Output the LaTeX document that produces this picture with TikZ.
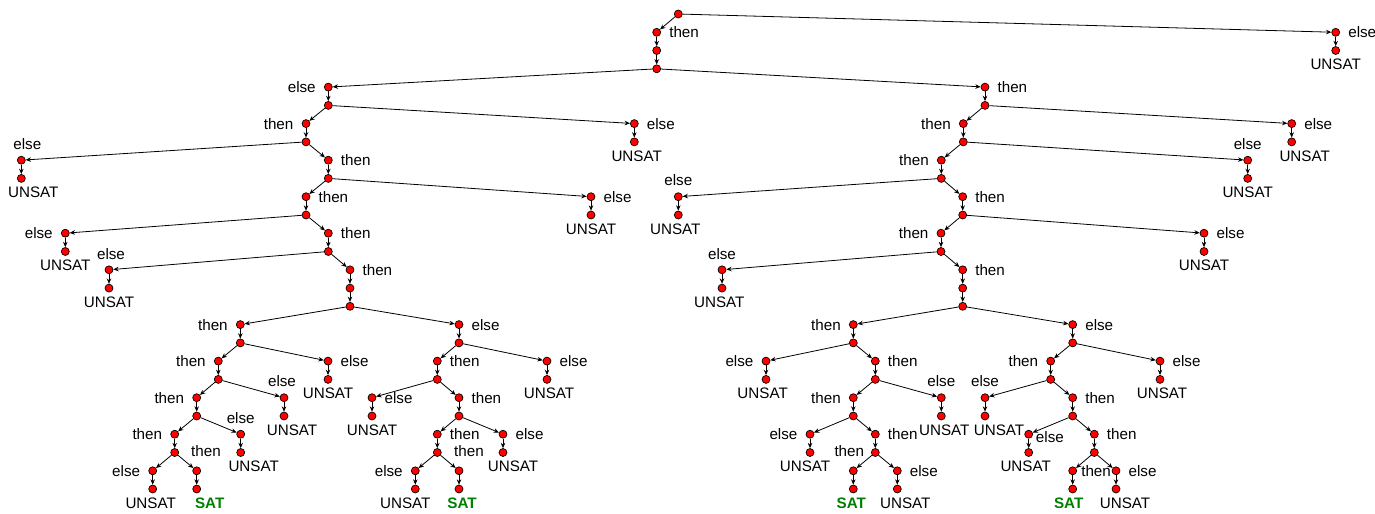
\documentclass[tikz,border=0pt]{standalone}
\usepackage{fontspec}
\setmainfont{Liberation Sans}
\usetikzlibrary{arrows.meta}
\definecolor{satgreen}{RGB}{0,128,0}

\begin{document}
\begin{tikzpicture}[x=0.75pt,y=-0.75pt,
  dot/.style={circle, draw=black, fill=red, line width=0.5pt, inner sep=0pt, minimum size=6pt},
  arr/.style={-{Stealth[length=4pt,width=3.4pt]}, line width=0.6pt},
  every label/.style={font=\fontsize{11.4}{13}\selectfont, inner sep=1pt},
  label distance=5pt,
  lthen/.style={label={left:then}},
  rthen/.style={label={right:then}},
  lelse/.style={label={left:else}},
  relse/.style={label={right:else}},
  aelse/.style={label={[label distance=3.5pt, xshift=#1]above:else}}, aelse/.default=0pt,
  athen/.style={label={[label distance=6pt, xshift=#1]above:then}}, athen/.default=0pt,
  unsat/.style={label={[label distance=2pt, xshift=#1]below:UNSAT}}, unsat/.default=0pt,
  sat/.style={label={[label distance=2pt, xshift=#1, text=satgreen, font=\fontsize{11.4}{13}\selectfont\bfseries]below:SAT}}, sat/.default=0pt]
\useasboundingbox (0,0) rectangle (1375,514);

%Shape: Root
\node[dot] (rt) at (678.3,14) {};
\node[dot, relse] (rt1e) at (1335.7,32.3) {};
\node[dot, unsat] (rt2e) at (1335.7,50.5) {};
\node[dot, rthen] (rt1t) at (656.7,32.3) {};
\node[dot] (rt2) at (656.7,50.5) {};
\node[dot] (rt3) at (656.7,68.8) {};

%Shape: Left branch
\node[dot, lelse] (l4) at (328.3,87.1) {};
\node[dot] (l5) at (328.3,105.4) {};
\node[dot, lthen] (l6t) at (306,123.6) {};
\node[dot, relse] (l6e) at (634.3,123.6) {};
\node[dot, unsat=1.8pt] (l7e) at (634.3,141.9) {};
\node[dot] (l7) at (306,141.9) {};
\node[dot, aelse=4.5pt] (l8e) at (21.3,160.2) {};
\node[dot, unsat=9pt] (l9e) at (21.3,178.4) {};
\node[dot, rthen] (l8t) at (328.3,160.2) {};
\node[dot] (l9) at (328.3,178.4) {};
\node[dot, rthen] (l10t) at (306,196.7) {};
\node[dot, relse] (l10e) at (591,196.7) {};
\node[dot, unsat] (l11e) at (591,215) {};
\node[dot] (l11) at (306,215) {};
\node[dot, lelse] (l12e) at (65.3,233.2) {};
\node[dot, unsat] (l13e) at (65.3,251.5) {};
\node[dot, rthen] (l12t) at (328.3,233.2) {};
\node[dot] (l13) at (328.3,251.5) {};
\node[dot, aelse=1.5pt] (l14e) at (109,269.8) {};
\node[dot, unsat] (l15e) at (109,288.1) {};
\node[dot, rthen] (l14t) at (350,269.8) {};
\node[dot] (l15) at (350,288.1) {};
\node[dot] (l16) at (350,306.3) {};

%Shape: Left branch, then side
\node[dot, lthen] (ll17) at (240.3,324.6) {};
\node[dot] (ll18) at (240.3,342.9) {};
\node[dot, lthen] (ll19t) at (218.3,361.1) {};
\node[dot, relse] (ll19e) at (328,361.1) {};
\node[dot, unsat] (ll20e) at (328,379.4) {};
\node[dot] (ll20) at (218.3,379.4) {};
\node[dot, lthen] (ll21t) at (196.7,397.7) {};
\node[dot, aelse=-1.5pt] (ll21e) at (284,397.7) {};
\node[dot, unsat=6pt] (ll22e) at (284,416) {};
\node[dot] (ll22) at (196.7,416) {};
\node[dot, lthen] (ll23t) at (174.7,434.2) {};
\node[dot, aelse] (ll23e) at (240.7,434.2) {};
\node[dot, unsat=9.75pt] (ll24e) at (240.7,452.5) {};
\node[dot] (ll24) at (174.7,452.5) {};
\node[dot, lelse] (ll25e) at (152.7,470.8) {};
\node[dot, unsat=-1.5pt] (ll26e) at (152.7,489) {};
\node[dot, athen=7pt] (ll25t) at (196.7,470.8) {};
\node[dot, sat=9.75pt] (ll26t) at (196.7,489) {};

%Shape: Left branch, else side
\node[dot, relse] (lr17) at (459,324.6) {};
\node[dot] (lr18) at (459,342.9) {};
\node[dot, rthen] (lr19t) at (437.3,361.1) {};
\node[dot, relse] (lr19e) at (547,361.1) {};
\node[dot, unsat=1.5pt] (lr20e) at (547,379.4) {};
\node[dot] (lr20) at (437.3,379.4) {};
\node[dot, relse] (lr21e) at (372,397.7) {};
\node[dot, unsat] (lr22e) at (372,416) {};
\node[dot, rthen] (lr21t) at (459,397.7) {};
\node[dot] (lr22) at (459,416) {};
\node[dot, rthen] (lr23t) at (437.3,434.2) {};
\node[dot, relse] (lr23e) at (503,434.2) {};
\node[dot, unsat=7.5pt] (lr24e) at (503,452.5) {};
\node[dot] (lr24) at (437.3,452.5) {};
\node[dot, lelse] (lr25e) at (415.3,470.8) {};
\node[dot, unsat=-7.5pt] (lr26e) at (415.3,489) {};
\node[dot, athen=7.5pt] (lr25t) at (459,470.8) {};
\node[dot, sat=2.25pt] (lr26t) at (459,489) {};

%Shape: Right branch
\node[dot, rthen] (r4) at (985,87.1) {};
\node[dot] (r5) at (985,105.4) {};
\node[dot, lthen] (r6t) at (963.3,123.6) {};
\node[dot, relse] (r6e) at (1291.7,123.6) {};
\node[dot, unsat=9.75pt] (r7e) at (1291.7,141.9) {};
\node[dot] (r7) at (963.3,141.9) {};
\node[dot, lthen] (r8t) at (941.3,160.2) {};
\node[dot, aelse] (r8e) at (1247.7,160.2) {};
\node[dot, unsat] (r9e) at (1247.7,178.4) {};
\node[dot] (r9) at (941.3,178.4) {};
\node[dot, aelse] (r10e) at (678.3,196.7) {};
\node[dot, unsat=-2.25pt] (r11e) at (678.3,215) {};
\node[dot, rthen] (r10t) at (962.7,196.7) {};
\node[dot] (r11) at (962.7,215) {};
\node[dot, lthen] (r12t) at (941,233.2) {};
\node[dot, relse] (r12e) at (1204,233.2) {};
\node[dot, unsat] (r13e) at (1204,251.5) {};
\node[dot] (r13) at (941,251.5) {};
\node[dot, aelse] (r14e) at (722,269.8) {};
\node[dot, unsat=-2pt] (r15e) at (722,288.1) {};
\node[dot, rthen] (r14t) at (962.7,269.8) {};
\node[dot] (r15) at (962.7,288.1) {};
\node[dot] (r16) at (962.7,306.3) {};

%Shape: Right branch, then side
\node[dot, lthen] (rl17) at (853.3,324.6) {};
\node[dot] (rl18) at (853.3,342.9) {};
\node[dot, lelse] (rl19e) at (766,361.1) {};
\node[dot, unsat=-2.5pt] (rl20e) at (766,379.4) {};
\node[dot, rthen] (rl19t) at (875.3,361.1) {};
\node[dot] (rl20) at (875.3,379.4) {};
\node[dot, lthen] (rl21t) at (853.3,397.7) {};
\node[dot, aelse] (rl21e) at (941.3,397.7) {};
\node[dot, unsat=2.25pt] (rl22e) at (941.3,416) {};
\node[dot] (rl22) at (853.3,416) {};
\node[dot, lelse] (rl23e) at (810,434.2) {};
\node[dot, unsat=-3.75pt] (rl24e) at (810,452.5) {};
\node[dot, rthen] (rl23t) at (875.3,434.2) {};
\node[dot] (rl24) at (875.3,452.5) {};
\node[dot, athen=-3pt] (rl25t) at (853.3,470.8) {};
\node[dot, sat=-1.5pt] (rl26t) at (853.3,489) {};
\node[dot, relse] (rl25e) at (897.3,470.8) {};
\node[dot, unsat=6pt] (rl26e) at (897.3,489) {};

%Shape: Right branch, else side
\node[dot, relse] (rr17) at (1072.7,324.6) {};
\node[dot] (rr18) at (1072.7,342.9) {};
\node[dot, lthen] (rr19t) at (1050.7,361.1) {};
\node[dot, relse] (rr19e) at (1160,361.1) {};
\node[dot, unsat=1.5pt] (rr20e) at (1160,379.4) {};
\node[dot] (rr20) at (1050.7,379.4) {};
\node[dot, aelse] (rr21e) at (985,397.7) {};
\node[dot, unsat=10.5pt] (rr22e) at (985,416) {};
\node[dot, rthen] (rr21t) at (1072.7,397.7) {};
\node[dot] (rr22) at (1072.7,416) {};
\node[dot, label={[label distance=1pt, yshift=-2pt]right:else}] (rr23e) at (1028.7,434.2) {};
\node[dot, unsat=-2.25pt] (rr24e) at (1028.7,452.5) {};
\node[dot, rthen] (rr23t) at (1094.3,434.2) {};
\node[dot] (rr24) at (1094.3,452.5) {};
\node[dot, label={[label distance=2pt]right:then}] (rr25t) at (1072.7,470.8) {};
\node[dot, sat=-3pt] (rr26t) at (1072.7,489) {};
\node[dot, relse] (rr25e) at (1116,470.8) {};
\node[dot, unsat=6.75pt] (rr26e) at (1116,489) {};

% Arrows: root
\draw[arr] (rt) -- (rt1t);
\draw[arr] (rt) -- (rt1e);
\draw[arr] (rt1e) -- (rt2e);
\draw[arr] (rt1t) -- (rt2);
\draw[arr] (rt2) -- (rt3);
\draw[arr] (rt3) -- (l4);
\draw[arr] (rt3) -- (r4);

% Arrows: left branch
\draw[arr] (l4) -- (l5);
\draw[arr] (l5) -- (l6t);
\draw[arr] (l5) -- (l6e);
\draw[arr] (l6e) -- (l7e);
\draw[arr] (l6t) -- (l7);
\draw[arr] (l7) -- (l8e);
\draw[arr] (l7) -- (l8t);
\draw[arr] (l8e) -- (l9e);
\draw[arr] (l8t) -- (l9);
\draw[arr] (l9) -- (l10t);
\draw[arr] (l9) -- (l10e);
\draw[arr] (l10e) -- (l11e);
\draw[arr] (l10t) -- (l11);
\draw[arr] (l11) -- (l12e);
\draw[arr] (l11) -- (l12t);
\draw[arr] (l12e) -- (l13e);
\draw[arr] (l12t) -- (l13);
\draw[arr] (l13) -- (l14e);
\draw[arr] (l13) -- (l14t);
\draw[arr] (l14e) -- (l15e);
\draw[arr] (l14t) -- (l15);
\draw[arr] (l15) -- (l16);
\draw[arr] (l16) -- (ll17);
\draw[arr] (l16) -- (lr17);

\draw[arr] (ll17) -- (ll18);
\draw[arr] (ll18) -- (ll19t);
\draw[arr] (ll18) -- (ll19e);
\draw[arr] (ll19e) -- (ll20e);
\draw[arr] (ll19t) -- (ll20);
\draw[arr] (ll20) -- (ll21t);
\draw[arr] (ll20) -- (ll21e);
\draw[arr] (ll21e) -- (ll22e);
\draw[arr] (ll21t) -- (ll22);
\draw[arr] (ll22) -- (ll23t);
\draw[arr] (ll22) -- (ll23e);
\draw[arr] (ll23e) -- (ll24e);
\draw[arr] (ll23t) -- (ll24);
\draw[arr] (ll24) -- (ll25e);
\draw[arr] (ll24) -- (ll25t);
\draw[arr] (ll25e) -- (ll26e);
\draw[arr] (ll25t) -- (ll26t);

\draw[arr] (lr17) -- (lr18);
\draw[arr] (lr18) -- (lr19t);
\draw[arr] (lr18) -- (lr19e);
\draw[arr] (lr19e) -- (lr20e);
\draw[arr] (lr19t) -- (lr20);
\draw[arr] (lr20) -- (lr21e);
\draw[arr] (lr20) -- (lr21t);
\draw[arr] (lr21e) -- (lr22e);
\draw[arr] (lr21t) -- (lr22);
\draw[arr] (lr22) -- (lr23t);
\draw[arr] (lr22) -- (lr23e);
\draw[arr] (lr23e) -- (lr24e);
\draw[arr] (lr23t) -- (lr24);
\draw[arr] (lr24) -- (lr25e);
\draw[arr] (lr24) -- (lr25t);
\draw[arr] (lr25e) -- (lr26e);
\draw[arr] (lr25t) -- (lr26t);

% Arrows: right branch
\draw[arr] (r4) -- (r5);
\draw[arr] (r5) -- (r6t);
\draw[arr] (r5) -- (r6e);
\draw[arr] (r6e) -- (r7e);
\draw[arr] (r6t) -- (r7);
\draw[arr] (r7) -- (r8t);
\draw[arr] (r7) -- (r8e);
\draw[arr] (r8e) -- (r9e);
\draw[arr] (r8t) -- (r9);
\draw[arr] (r9) -- (r10e);
\draw[arr] (r9) -- (r10t);
\draw[arr] (r10e) -- (r11e);
\draw[arr] (r10t) -- (r11);
\draw[arr] (r11) -- (r12t);
\draw[arr] (r11) -- (r12e);
\draw[arr] (r12e) -- (r13e);
\draw[arr] (r12t) -- (r13);
\draw[arr] (r13) -- (r14e);
\draw[arr] (r13) -- (r14t);
\draw[arr] (r14e) -- (r15e);
\draw[arr] (r14t) -- (r15);
\draw[arr] (r15) -- (r16);
\draw[arr] (r16) -- (rl17);
\draw[arr] (r16) -- (rr17);

\draw[arr] (rl17) -- (rl18);
\draw[arr] (rl18) -- (rl19e);
\draw[arr] (rl18) -- (rl19t);
\draw[arr] (rl19e) -- (rl20e);
\draw[arr] (rl19t) -- (rl20);
\draw[arr] (rl20) -- (rl21t);
\draw[arr] (rl20) -- (rl21e);
\draw[arr] (rl21e) -- (rl22e);
\draw[arr] (rl21t) -- (rl22);
\draw[arr] (rl22) -- (rl23e);
\draw[arr] (rl22) -- (rl23t);
\draw[arr] (rl23e) -- (rl24e);
\draw[arr] (rl23t) -- (rl24);
\draw[arr] (rl24) -- (rl25t);
\draw[arr] (rl24) -- (rl25e);
\draw[arr] (rl25t) -- (rl26t);
\draw[arr] (rl25e) -- (rl26e);

\draw[arr] (rr17) -- (rr18);
\draw[arr] (rr18) -- (rr19t);
\draw[arr] (rr18) -- (rr19e);
\draw[arr] (rr19e) -- (rr20e);
\draw[arr] (rr19t) -- (rr20);
\draw[arr] (rr20) -- (rr21e);
\draw[arr] (rr20) -- (rr21t);
\draw[arr] (rr21e) -- (rr22e);
\draw[arr] (rr21t) -- (rr22);
\draw[arr] (rr22) -- (rr23e);
\draw[arr] (rr22) -- (rr23t);
\draw[arr] (rr23e) -- (rr24e);
\draw[arr] (rr23t) -- (rr24);
\draw[arr] (rr24) -- (rr25t);
\draw[arr] (rr24) -- (rr25e);
\draw[arr] (rr25t) -- (rr26t);
\draw[arr] (rr25e) -- (rr26e);

\end{tikzpicture}
\end{document}
